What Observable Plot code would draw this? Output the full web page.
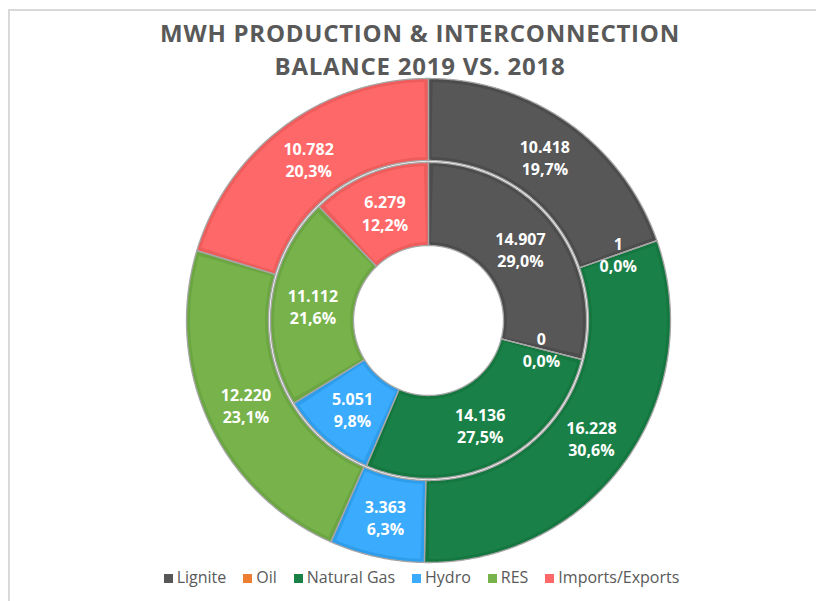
<!DOCTYPE html>
<html>
<head>
<meta charset="utf-8">
<script src="https://cdn.jsdelivr.net/npm/d3@7"></script>
<script src="https://cdn.jsdelivr.net/npm/@observablehq/plot@0.6"></script>
<style>
  html, body { margin: 0; padding: 0; background: #fff; }
  #wrap { position: relative; width: 816px; height: 601px; overflow: hidden; font-family: "Open Sans", sans-serif; }
  #chart { position: absolute; left: 0; top: 0; }
  #frame { position: absolute; left: 8px; top: 9px; width: 830px; height: 620px; border-left: 2px solid #d9d9d9; border-top: 2px solid #d9d9d9; box-sizing: border-box; pointer-events: none; }
  #title { position: absolute; left: 0; top: 16px; width: 840px; text-align: center; font-weight: 700; font-size: 24px; line-height: 33px; color: #595959; letter-spacing: 0.75px; }
  #legend { position: absolute; left: 0; top: 566px; width: 843px; text-align: center; font-size: 16px; color: #595959; white-space: nowrap; }
  #legend .item { display: inline-block; margin: 0 8.5px; }
  #legend .sw { display: inline-block; width: 9px; height: 9px; margin-right: 4px; vertical-align: 0px; }
</style>
</head>
<body>
<div id="wrap">
  <div id="chart"></div>
  <div id="frame"></div>
  <div id="title">MWH PRODUCTION &amp; INTERCONNECTION<br>BALANCE 2019 VS. 2018</div>
  <div id="legend"></div>
</div>
<script>
// ---- data ----
const categories = ["Lignite", "Oil", "Natural Gas", "Hydro", "RES", "Imports/Exports"];
const values2018 = [14907, 0, 14136, 5051, 11112, 6279];   // inner ring
const values2019 = [10418, 1, 16228, 3363, 12220, 10782];  // outer ring
const seriesNames = ["2018", "2019"];

// ---- styles ----
const fillColors   = ["#575757", "#ED7D31", "#198148", "#3AABFD", "#77B24A", "#FF6868"];
const borderColors = ["#4C4C4C", "#D86C25", "#14773F", "#2E9DEB", "#6BA642", "#EE5C5C"];
const ringGeom = [{r0: 75, r1: 158}, {r0: 160, r1: 242}];
const inset = 3.5;

const loc = d3.formatLocale({decimal: ",", thousands: ".", grouping: [3], currency: ["", ""]});
const fmtNum = loc.format(",d");
const fmtPct = loc.format(".1%");

const fills = [], borders = [], outlines = [], labels = [];
[values2018, values2019].forEach((vals, ri) => {
  const {r0, r1} = ringGeom[ri];
  const total = d3.sum(vals);
  const arcs = d3.pie().sort(null).value(d => d)(vals);
  arcs.forEach((a, i) => {
    const id = seriesNames[ri] + "-" + categories[i];
    const a0 = a.startAngle, a1 = a.endAngle;
    const poly = (ri0, ro0, b0, b1, key, col, target) => {
      const n = Math.max(2, Math.ceil((b1 - b0) / 0.005));
      const pts = [];
      for (let k = 0; k <= n; k++) { const t = b0 + (b1 - b0) * k / n; pts.push({id: key, x: ro0 * Math.sin(t), y: ro0 * Math.cos(t), c: col}); }
      for (let k = n; k >= 0; k--) { const t = b0 + (b1 - b0) * k / n; pts.push({id: key, x: ri0 * Math.sin(t), y: ri0 * Math.cos(t), c: col}); }
      pts.push({...pts[0]});
      target.push(...pts);
    };
    if (a1 > a0) {
      poly(r0, r1, a0, a1, id, borderColors[i], borders);
      poly(r0, r1, a0, a1, id, "#A6A6A6", outlines);
      const ri0 = r0 + inset, ro0 = r1 - inset;
      const rm = (r0 + r1) / 2;
      const b0 = a0 + inset / rm, b1 = a1 - inset / rm;
      if (b1 > b0) poly(ri0, ro0, b0, b1, id, fillColors[i], fills);
    } else {
      poly(r0, r1, a0, a0, id, "#A6A6A6", outlines);
    }
    const mid = (a0 + a1) / 2, rm = (r0 + r1) / 2;
    labels.push({x: rm * Math.sin(mid), y: rm * Math.cos(mid), text: fmtNum(vals[i]) + "\n" + fmtPct(vals[i] / total)});
  });
});

const plot = Plot.plot({
  width: 816,
  height: 601,
  margin: 0,
  axis: null,
  x: {domain: [-428, 388]},
  y: {domain: [-281, 320]},
  color: {type: "identity"},
  style: {background: "transparent"},
  marks: [
    Plot.line(borders, {x: "x", y: "y", z: "id", fill: "c", stroke: "none", curve: "linear"}),
    Plot.line(fills, {x: "x", y: "y", z: "id", fill: "c", stroke: "none", curve: "linear"}),
    Plot.line(outlines, {x: "x", y: "y", z: "id", stroke: "#A6A6A6", strokeWidth: 1.3, fill: "none", curve: "linear"}),
    Plot.text(labels, {x: "x", y: "y", text: "text", fill: "white", fontWeight: "bold", fontSize: 16, lineHeight: 1.38, fontFamily: "Open Sans"})
  ]
});
document.getElementById("chart").appendChild(plot);

const legend = document.getElementById("legend");
categories.forEach((c, i) => {
  const it = document.createElement("span");
  it.className = "item";
  it.innerHTML = `<span class="sw" style="background:${fillColors[i]}"></span>${c}`;
  legend.appendChild(it);
});
</script>
</body>
</html>
